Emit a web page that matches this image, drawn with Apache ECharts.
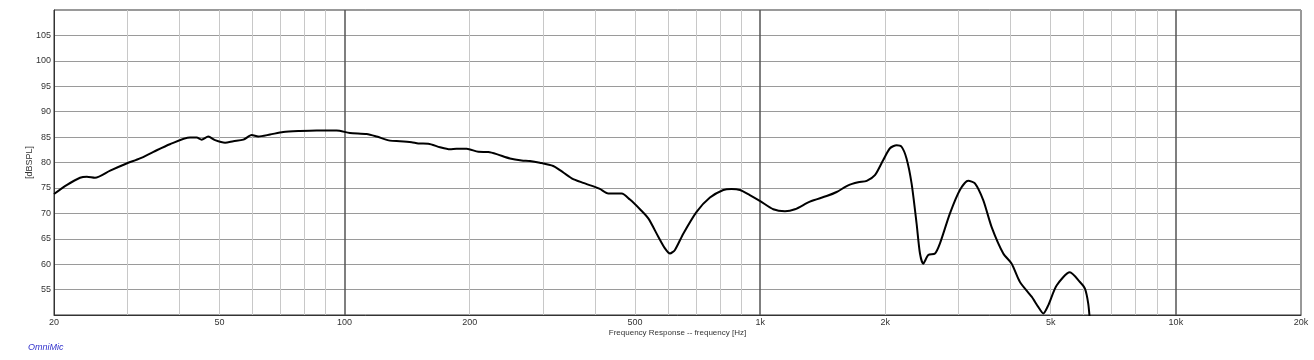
<!DOCTYPE html>
<html>
<head>
<meta charset="utf-8">
<script src="https://cdn.jsdelivr.net/npm/echarts@6/dist/echarts.min.js"></script>
<style>
html,body{margin:0;padding:0;background:#fff;}
#chart{width:1314px;height:360px;}
</style>
</head>
<body>
<div id="chart"></div>
<script>
const freqHz = [20, 21.5, 23.1, 24.0, 25.1, 27.3, 29.9, 32.2, 34.7, 38.0, 42.5, 44.1, 45.3, 47.0, 48.8, 51.6, 54.0, 57.1, 59.8, 62.0, 66.2, 71.2, 78.1, 85.7, 95.7, 103, 113, 119.5, 128.6, 135.9, 145, 150.4, 159, 169.7, 179.3, 186, 196.7, 209.9, 221.8, 232.3, 250, 266.7, 279.3, 295, 317.8, 329.7, 352, 375, 400, 411.5, 430.9, 464.2, 486, 513.8, 538, 568.6, 590, 606.6, 623.5, 653, 703, 757, 815, 853, 894, 944, 1000, 1075, 1147, 1212, 1317, 1445, 1527, 1628, 1721, 1804, 1888, 1977, 2052, 2129, 2188, 2249, 2313, 2378, 2423, 2467, 2537, 2633, 2707, 2861, 3023, 3166, 3285, 3440, 3604, 3844, 4027, 4216, 4498, 4665, 4797, 4931, 5165, 5559, 5877, 6043, 6153, 6209];
const splDb = [73.8, 75.6, 77.0, 77.2, 77.0, 78.4, 79.8, 80.8, 82.1, 83.6, 84.9, 84.9, 84.5, 85.1, 84.4, 83.9, 84.2, 84.5, 85.4, 85.1, 85.5, 86.0, 86.2, 86.3, 86.3, 85.8, 85.6, 85.1, 84.3, 84.2, 84.0, 83.75, 83.7, 83.0, 82.6, 82.7, 82.7, 82.1, 82.05, 81.65, 80.8, 80.4, 80.3, 79.95, 79.3, 78.5, 76.9, 76.0, 75.2, 74.8, 73.9, 73.9, 72.7, 70.8, 69.0, 65.4, 63.1, 62.1, 62.8, 66.0, 70.3, 73.1, 74.6, 74.8, 74.6, 73.6, 72.4, 70.8, 70.4, 70.8, 72.3, 73.4, 74.2, 75.5, 76.1, 76.4, 77.5, 80.5, 82.8, 83.4, 83.1, 80.8, 75.9, 68.0, 62.1, 60.1, 61.8, 62.1, 64.1, 70.0, 74.6, 76.4, 75.9, 72.6, 67.3, 62.1, 60.1, 56.5, 53.6, 51.6, 50.3, 51.9, 55.8, 58.4, 56.5, 55.2, 52.3, 49.0];
const xLabelValues = [20, 50, 100, 200, 500, 1000, 2000, 5000, 10000, 20000];
const xMajorGrid = [100, 1000, 10000];
const xMinorGrid = [30, 40, 50, 60, 70, 80, 90, 200, 300, 400, 500, 600, 700, 800, 900, 2000, 3000, 4000, 5000, 6000, 7000, 8000, 9000];
const seriesName = 'Frequency Response';

const chart = echarts.init(document.getElementById('chart'), null, {renderer: 'canvas'});
const data = freqHz.map((f, i) => [f, splDb[i]]);
const fmtHz = v => v >= 1000 ? (v / 1000) + 'k' : String(v);
const FONT = 'Liberation Sans, Arial, sans-serif';

chart.setOption({
  animation: false,
  backgroundColor: '#fff',
  grid: {left: 54, right: 13, top: 10, bottom: 45, show: true, borderColor: '#333', borderWidth: 1},
  xAxis: [
    {
      type: 'log', logBase: 10, min: 20, max: 20000, position: 'bottom',
      name: 'Frequency Response -- frequency [Hz]', nameLocation: 'middle', nameGap: 14, nameMoveOverlap: false,
      nameTextStyle: {fontSize: 8, color: '#333', fontFamily: FONT},
      axisLine: {show: true, lineStyle: {color: '#333', width: 1}},
      axisTick: {show: false, customValues: xMajorGrid},
      axisLabel: {customValues: xLabelValues, formatter: fmtHz, fontSize: 9, color: '#333', fontFamily: FONT, margin: 3, showMinLabel: true, showMaxLabel: true},
      splitLine: {show: true, lineStyle: {color: '#555', width: 1.5}},
      z: 3
    },
    {
      type: 'log', logBase: 10, min: 20, max: 20000, position: 'bottom', gridIndex: 0,
      axisLine: {show: false}, axisLabel: {show: false},
      axisTick: {show: false, customValues: xMinorGrid},
      splitLine: {show: true, lineStyle: {color: '#c8c8c8', width: 1}},
      z: 1
    }
  ],
  yAxis: {
    type: 'value', min: 50, max: 110, interval: 5,
    name: '[dBSPL]', nameLocation: 'middle', nameRotate: 90, nameGap: 20, nameMoveOverlap: false,
    nameTextStyle: {fontSize: 9, color: '#333', fontFamily: FONT},
    axisLine: {show: true, lineStyle: {color: '#333'}},
    axisTick: {show: false},
    axisLabel: {fontSize: 9, color: '#333', fontFamily: FONT, margin: 3,
      formatter: v => (v <= 50 || v >= 110) ? '' : String(v)},
    splitLine: {show: true, lineStyle: {color: '#9a9a9a', width: 1.2}}
  },
  series: [{
    name: seriesName, type: 'line', xAxisIndex: 0, yAxisIndex: 0,
    data: data, showSymbol: false, symbol: 'none', smooth: 0.25, clip: true,
    lineStyle: {color: '#000', width: 2}, z: 5
  }],
  graphic: [{
    type: 'text', left: 28, top: 343,
    style: {text: 'OmniMic', fill: '#3333cc', font: 'italic 9px ' + FONT}
  }]
});
</script>
</body>
</html>
